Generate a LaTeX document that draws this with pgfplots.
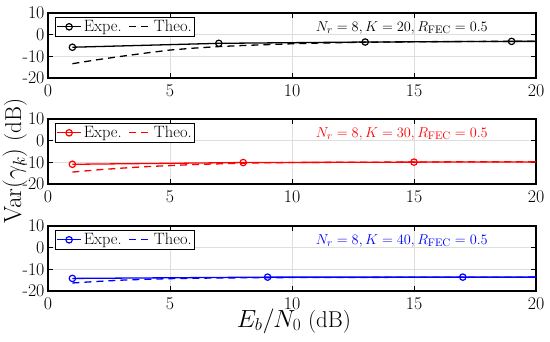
\documentclass[border=0pt]{standalone}
\usepackage{pgfplots}
\pgfplotsset{compat=1.18}
\begin{document}
\begin{tikzpicture}
\useasboundingbox (0bp,0bp) rectangle (550bp,342bp);
\pgfplotsset{
  mystyle/.style={
    scale only axis, width=488bp, height=65bp,
    anchor=south west,
    xmin=0, xmax=20, ymin=-20, ymax=10,
    xtick={0,5,10,15,20},
    ytick={-20,-10,0,10}, yticklabels={-20,-10,0,10},
    xticklabels={0,5,10,15,20},
    grid=major, major grid style={black!13, line width=0.8pt},
    axis line style={line width=1.1pt},
    tick style={black, line width=1pt},
    major tick length=5bp, tick align=inside,
    xtick pos=both, ytick pos=both,
    tick label style={font=\fontsize{18}{18}\selectfont},
    xticklabel style={yshift=-3bp},
    legend columns=2,
    legend style={at={(0.0143,0.94)}, anchor=north west, draw=black, line width=1pt,
      font=\fontsize{16.5}{16.5}\selectfont, inner sep=1pt, row sep=0pt,
      /tikz/every even column/.append style={column sep=5bp}},
    legend cell align=left,
    every axis plot/.append style={line width=1.3pt},
  },
  expe/.style={solid, mark=o, mark size=3.2bp, mark options={solid, line width=1.2pt},
    legend image code/.code={\draw[mark indices={2}] plot coordinates {(0bp,0bp)(12bp,0bp)(24bp,0bp)};}},
  theo/.style={dash pattern=on 7bp off 5bp,
    legend image code/.code={\draw plot coordinates {(0bp,0bp)(22bp,0bp)};}},
}
% top
\begin{axis}[mystyle, at={(48bp,264bp)}]
\addplot[black, expe, mark indices={1,2,3,4}] coordinates {(1,-5.8)(7,-4.0)(13,-3.4)(19,-3.1)(20,-3.1)};
\addlegendentry{Expe.}
\addplot[black, theo] coordinates {(1,-13.4)(2,-11.6)(3,-10.0)(4,-8.5)(5,-7.1)(6,-6.2)(7,-5.5)(8,-5.0)(9,-4.6)(10,-4.2)(11,-3.9)(12,-3.7)(13,-3.5)(14,-3.4)(15,-3.3)(16,-3.2)(17,-3.15)(18,-3.1)(19,-3.1)(20,-3.05)};
\addlegendentry{Theo.}
\node[black, font=\fontsize{15.5}{15.5}\selectfont] at (axis cs:14.5,3.2) {$N_r=8, K=20, R_{\mathrm{FEC}}=0.5$};
\end{axis}
% middle
\begin{axis}[mystyle, at={(48bp,158bp)}]
\addplot[red, expe, mark indices={1,2,3}] coordinates {(1,-10.9)(8,-10.1)(15,-9.9)(20,-9.8)};
\addlegendentry{Expe.}
\addplot[red, theo] coordinates {(1,-14.5)(2,-13.5)(3,-12.7)(4,-12.0)(5,-11.5)(6,-11.0)(7,-10.7)(8,-10.4)(9,-10.2)(10,-10.1)(12,-10.0)(14,-9.9)(16,-9.8)(18,-9.7)(20,-9.7)};
\addlegendentry{Theo.}
\node[red, font=\fontsize{15.5}{15.5}\selectfont] at (axis cs:14.5,3.2) {$N_r=8, K=30, R_{\mathrm{FEC}}=0.5$};
\end{axis}
% bottom
\begin{axis}[mystyle, at={(48bp,51bp)}]
\addplot[blue, expe, mark indices={1,2,3}] coordinates {(1,-14.2)(9,-13.6)(17,-13.6)(20,-13.6)};
\addlegendentry{Expe.}
\addplot[blue, theo] coordinates {(1,-16.3)(2,-15.6)(3,-15.0)(4,-14.6)(5,-14.3)(6,-14.1)(7,-14.0)(8,-13.9)(10,-13.8)(14,-13.7)(20,-13.6)};
\addlegendentry{Theo.}
\node[blue, font=\fontsize{15.5}{15.5}\selectfont] at (axis cs:14.5,3.2) {$N_r=8, K=40, R_{\mathrm{FEC}}=0.5$};
\end{axis}
\node[rotate=90, font=\fontsize{23}{23}\selectfont] at (15bp,181bp) {$\mathrm{Var}(\gamma_k)$ (dB)};
\node[font=\fontsize{23}{23}\selectfont] at (294bp,21bp) {$E_b/N_0$ (dB)};
\end{tikzpicture}
\end{document}
